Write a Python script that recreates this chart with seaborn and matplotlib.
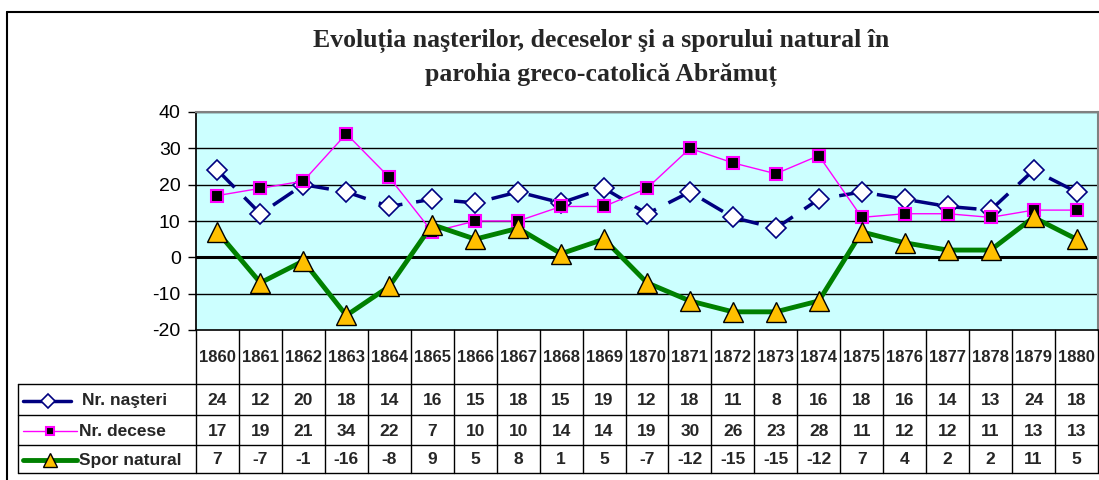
import matplotlib
matplotlib.use("Agg")
import matplotlib.pyplot as plt
import seaborn as sns
import pandas as pd

years = [1860, 1861, 1862, 1863, 1864, 1865, 1866, 1867, 1868, 1869, 1870,
         1871, 1872, 1873, 1874, 1875, 1876, 1877, 1878, 1879, 1880]
nasteri = [24, 12, 20, 18, 14, 16, 15, 18, 15, 19, 12, 18, 11, 8, 16, 18, 16, 14, 13, 24, 18]
decese = [17, 19, 21, 34, 22, 7, 10, 10, 14, 14, 19, 30, 26, 23, 28, 11, 12, 12, 11, 13, 13]
spor = [7, -7, -1, -16, -8, 9, 5, 8, 1, 5, -7, -12, -15, -15, -12, 7, 4, 2, 2, 11, 5]
series_names = ["Nr. naşteri", "Nr. decese", "Spor natural"]
title_lines = ["Evoluția naşterilor, deceselor şi a sporului natural în",
               "parohia greco-catolică Abrămuț"]

sns.set_theme(style="white")
plt.rcParams['font.family'] = ['Liberation Sans', 'DejaVu Sans']
plt.rcParams['axes.unicode_minus'] = False

W, H = 1099, 480
fig = plt.figure(figsize=(W / 100, H / 100), dpi=100)
fig.patch.set_facecolor('white')


def px(x0, y0, x1, y1):
    return [x0 / W, 1 - y1 / H, (x1 - x0) / W, (y1 - y0) / H]


# plot area
L, T, R, B = 196, 112, 1098, 330
ax = fig.add_axes(px(L, T, R, B))
ax.set_facecolor('#CCFFFF')

df = pd.DataFrame({"idx": range(len(years)), "nasteri": nasteri,
                   "decese": decese, "spor": spor})

styles = [
    dict(color='#000080', lw=2.5, linestyle=(0, (7, 4)), marker='D', markersize=10,
         markerfacecolor='white', markeredgecolor='#000080', markeredgewidth=1.2),
    dict(color='#FF00FF', lw=1.0, linestyle='-', marker='s', markersize=8.5,
         markerfacecolor='black', markeredgecolor='#FF00FF', markeredgewidth=1.5),
    dict(color='#008000', lw=3.5, linestyle='-', marker='^', markersize=14,
         markerfacecolor='#FFC000', markeredgecolor='black', markeredgewidth=1.0),
]
for col, st in zip(["nasteri", "decese", "spor"], styles):
    sns.lineplot(data=df, x="idx", y=col, ax=ax, **st)

ax.set_xlim(-0.5, len(years) - 0.5)
ax.set_ylim(-20, 40)
ax.set_yticks(range(-20, 41, 10))
ax.set_xticks([])
ax.set_xlabel("")
ax.set_ylabel("")
for y in range(-10, 41, 10):
    ax.axhline(y, color='black', lw=2.2 if y == 0 else 1.0, zorder=0.5)
ax.tick_params(axis='y', direction='out', length=6, width=1, color='black',
               labelsize=14, pad=5, left=True)
for lab in ax.get_yticklabels():
    lab.set_color('black')
ax.spines['left'].set_color('black')
ax.spines['bottom'].set_color('black')
ax.spines['bottom'].set_linewidth(1.2)
ax.spines['top'].set_color('#808080')
ax.spines['top'].set_linewidth(1.5)
ax.spines['right'].set_color('#808080')
ax.spines['right'].set_linewidth(1.5)

# overlay for frame, title, table
ov = fig.add_axes([0, 0, 1, 1])
ov.set_xlim(0, W)
ov.set_ylim(H, 0)
ov.axis('off')
ov.patch.set_alpha(0)

# outer frame
ov.plot([7, 7], [12, H + 2], color='black', lw=1.5)
ov.plot([7, W + 2], [12, 12], color='black', lw=1.5)

for yy, line in zip([41, 75], title_lines):
    ov.text(601, yy, line, ha='center', va='center', fontsize=18.5, fontweight='bold',
            family=['Liberation Serif', 'DejaVu Serif'])

# table
n = len(years)
cw = (R - L) / n
rows = [384, 415, 445, 473]
lc = dict(color='black', lw=1.0)
for i in range(n + 1):
    x = L + i * cw
    ov.plot([x, x], [B, rows[-1]], **lc)
ov.plot([18, 18], [rows[0], rows[-1]], **lc)
for y in rows:
    ov.plot([18, R], [y, y], **lc)

for i, yr in enumerate(years):
    ov.text(L + (i + 0.5) * cw, (B + rows[0]) / 2 + 1, str(yr), ha='center', va='center',
            fontsize=12, fontweight='bold')

data_rows = [nasteri, decese, spor]
for r, vals in enumerate(data_rows):
    yc = (rows[r] + rows[r + 1]) / 2 + 1
    for i, v in enumerate(vals):
        ov.text(L + (i + 0.5) * cw, yc, str(v), ha='center', va='center',
                fontsize=12.5, fontweight='bold')
    st = styles[r]
    msz = st['markersize'] * 0.72
    if r == 0:
        ov.plot([23, 43], [yc, yc], color=st['color'], lw=st['lw'])
        ov.plot([53, 71], [yc, yc], color=st['color'], lw=st['lw'])
        ov.plot([48], [yc], marker=st['marker'], markersize=msz,
                markerfacecolor=st['markerfacecolor'], markeredgecolor=st['markeredgecolor'],
                markeredgewidth=1.2, linestyle='none')
        lx = 82
    else:
        ov.plot([23, 77], [yc, yc], color=st['color'], lw=st['lw'])
        ov.plot([50], [yc], marker=st['marker'], markersize=msz,
                markerfacecolor=st['markerfacecolor'], markeredgecolor=st['markeredgecolor'],
                markeredgewidth=st['markeredgewidth'], linestyle='none')
        lx = 79
    ov.text(lx, yc, series_names[r], ha='left', va='center', fontsize=12.5, fontweight='bold')

fig.savefig("out.png", dpi=100, facecolor='white')
